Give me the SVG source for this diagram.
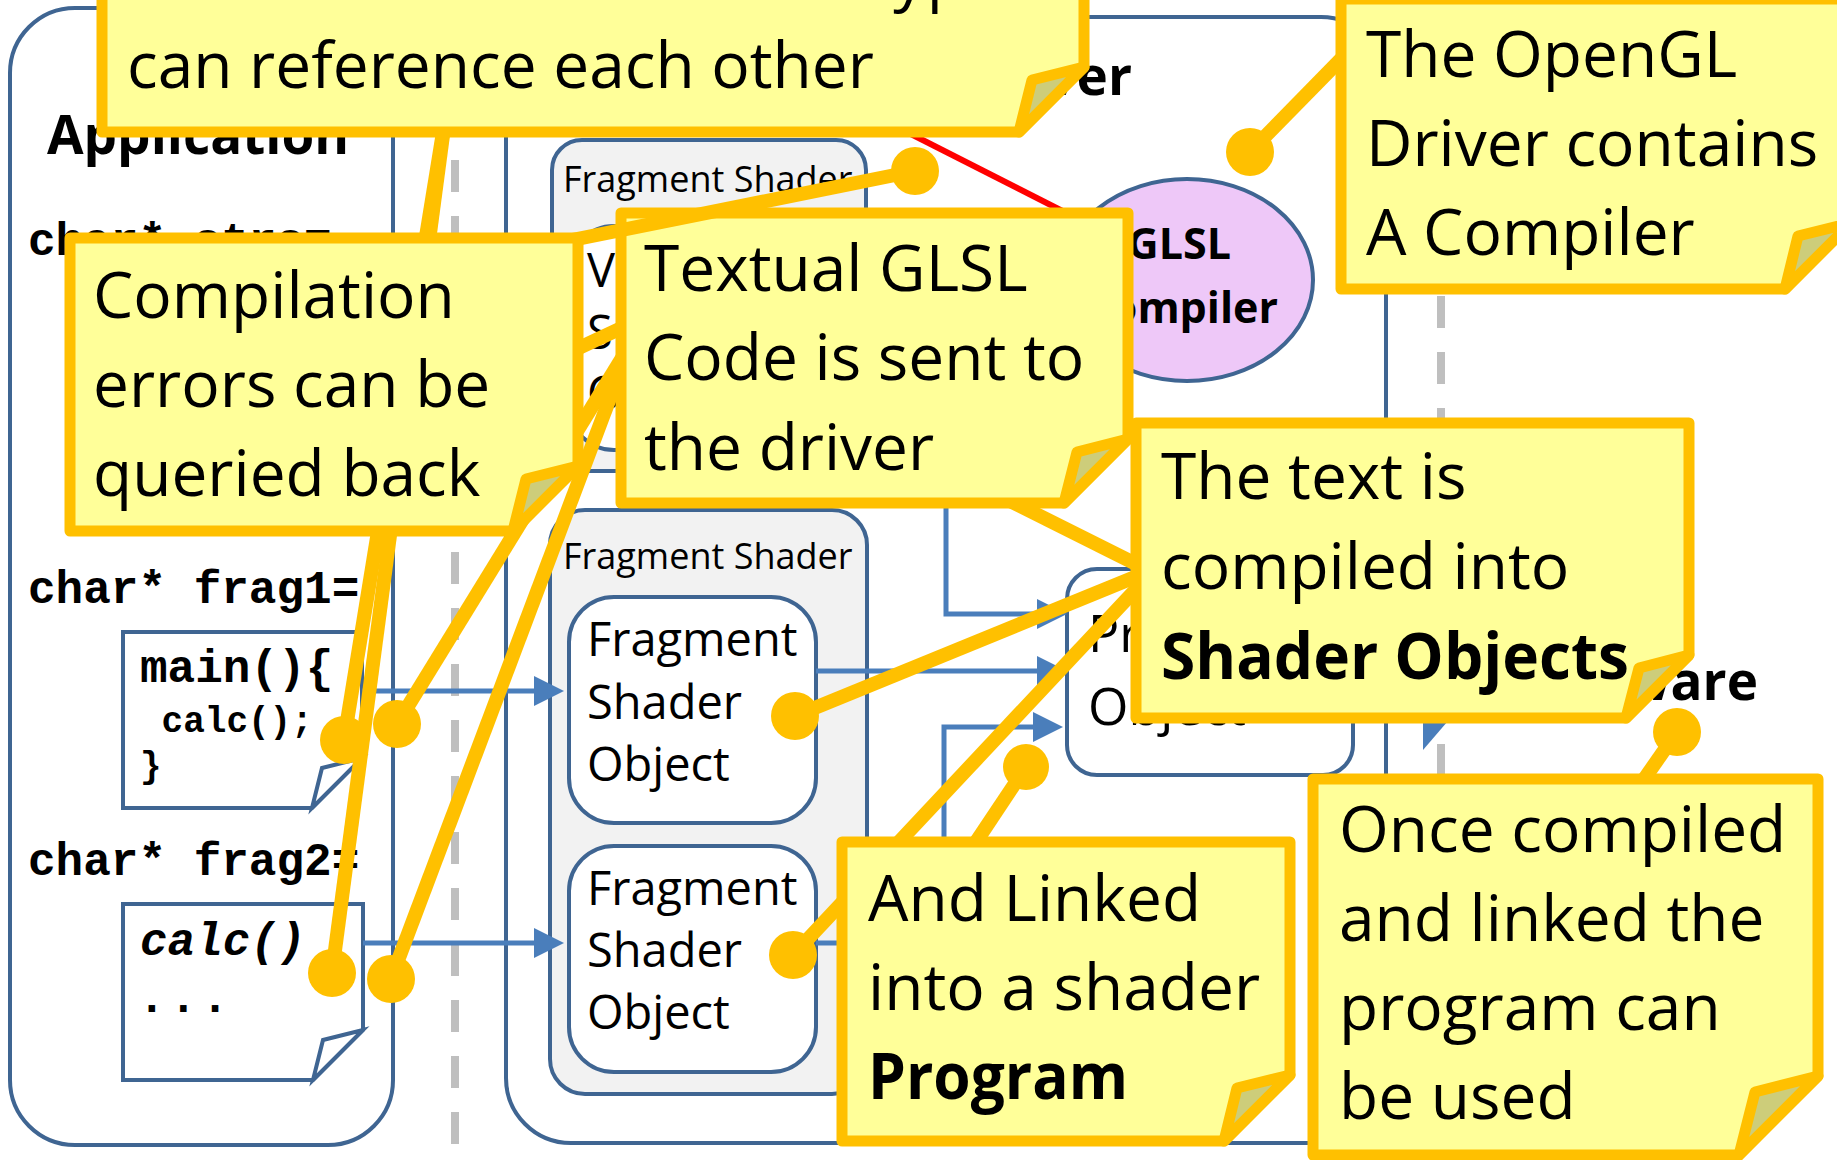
<svg xmlns="http://www.w3.org/2000/svg" width="1837" height="1160" viewBox="0 0 1837 1160">
<defs>
<style>
.box{fill:#fff;stroke:#3F6592;stroke-width:4}
.grp{fill:#F2F2F2;stroke:#3F6592;stroke-width:4}
.sep{stroke:#BFBFBF;stroke-width:8;stroke-dasharray:32 24;fill:none}
.title{font-family:"Open Sans","Liberation Sans",sans-serif;font-weight:bold;font-size:53px}
.lbl{font-family:"Open Sans","Liberation Sans",sans-serif;font-size:36px}
.obj{font-family:"Open Sans","Liberation Sans",sans-serif;font-size:47px}
.prg{font-family:"Open Sans","Liberation Sans",sans-serif;font-size:52px}
.cmp{font-family:"Open Sans","Liberation Sans",sans-serif;font-weight:bold;font-size:43px}
.code{font-family:"Liberation Mono","Courier New",monospace;font-weight:bold;font-size:46px}
.cs{font-size:36px}
.flow{fill:none;stroke:#4A7EBB;stroke-width:5}
.note{fill:#FFFF99;stroke:#FFC000;stroke-width:11;stroke-linejoin:round}
.fold{fill:#CDCD7A;stroke:#FFC000;stroke-width:11;stroke-linejoin:round}
.lead{stroke:#FFC000;stroke-width:14;fill:none}
.pin{fill:#FFC000}
.nt{font-family:"Open Sans","Liberation Sans",sans-serif;font-size:64px}
.b{font-weight:bold}
</style>
<marker id="arr" markerUnits="userSpaceOnUse" markerWidth="30" markerHeight="30" refX="20" refY="15" orient="auto">
<path d="M0,0 L30,15 L0,30 Z" fill="#4A7EBB"/>
</marker>
</defs>
<rect width="1837" height="1160" fill="#fff"/>

<!-- layer separators -->
<g id="separators">
<line class="sep" x1="455" y1="48" x2="455" y2="1144"/>
<line class="sep" x1="1441" y1="16" x2="1441" y2="1144"/>
</g>

<!-- application side -->
<g id="application">
<rect class="box" x="10" y="8" width="383" height="1137" rx="65"/>
<text class="title" x="47" y="154">Application</text>
<text class="code" x="28" y="255">char* strs=</text>
<text class="code" x="28" y="603">char* frag1=</text>
<text class="code" x="28" y="875">char* frag2=</text>
</g>
<g id="code-frag1">
<path class="box" d="M123,632 H362 V758 L312,808 H123 Z"/>
<path class="box" d="M312,808 L322,768 L362,758 Z"/>
<text class="code" x="140" y="682">main(){</text>
<text class="code cs" x="140" y="732" xml:space="preserve"> calc();</text>
<text class="code cs" x="140" y="777">}</text>
</g>
<g id="code-frag2">
<path class="box" d="M123,904 H363 V1030 L313,1080 H123 Z"/>
<path class="box" d="M313,1080 L323,1040 L363,1030 Z"/>
<text class="code" x="140" y="955" font-style="italic">calc()</text>
<text class="code" x="138" y="1012" letter-spacing="4">...</text>
</g>

<!-- driver side -->
<g id="driver">
<rect class="box" x="506" y="17" width="880" height="1126" rx="65"/>
<text class="title" x="1132" y="95" text-anchor="end">OpenGL Driver</text>
</g>
<g id="shader-group-top">
<rect class="grp" x="552" y="140" width="314" height="331" rx="30"/>
<text class="lbl" x="563" y="192">Fragment Shader</text>
<rect class="box" x="569" y="226" width="247" height="224" rx="45"/>
<text class="obj" x="587" y="287">Vertex</text>
<text class="obj" x="587" y="349">Shader</text>
<text class="obj" x="587" y="410">Object</text>
</g>
<g id="shader-group-frag">
<rect class="grp" x="550" y="510" width="317" height="584" rx="35"/>
<text class="lbl" x="563" y="569">Fragment Shader</text>
</g>
<g id="frag-object-1">
<rect class="box" x="569" y="597" width="247" height="226" rx="45"/>
<text class="obj" x="587" y="656">Fragment</text>
<text class="obj" x="587" y="719">Shader</text>
<text class="obj" x="587" y="781">Object</text>
</g>
<g id="frag-object-2">
<rect class="box" x="569" y="846" width="247" height="226" rx="45"/>
<text class="obj" x="587" y="905">Fragment</text>
<text class="obj" x="587" y="967">Shader</text>
<text class="obj" x="587" y="1029">Object</text>
</g>
<g id="program-object">
<rect class="box" x="1067" y="569" width="286" height="206" rx="30"/>
<text class="prg" x="1088" y="652">Program</text>
<text class="prg" x="1088" y="725">Object</text>
</g>
<g id="glsl-compiler">
<ellipse cx="1187" cy="280" rx="126" ry="101" fill="#EEC8F8" stroke="#3F6592" stroke-width="4"/>
<text class="cmp" x="1231" y="259" text-anchor="end">GLSL</text>
<text class="cmp" x="1278" y="323" text-anchor="end">Compiler</text>
</g>

<!-- hardware side -->
<g id="hardware">
<text class="title" x="1758" y="700" text-anchor="end">Hardware</text>
</g>

<!-- data flow -->
<g id="connectors">
<path class="flow" d="M362,691 H554" marker-end="url(#arr)"/>
<path class="flow" d="M363,943 H554" marker-end="url(#arr)"/>
<path class="flow" d="M816,671 H1057" marker-end="url(#arr)"/>
<path class="flow" d="M816,943 H944 V727 H1053" marker-end="url(#arr)"/>
<path class="flow" d="M816,335 H946 V614 H1057" marker-end="url(#arr)"/>
<polygon points="1423,700 1466,700 1423,750" fill="#4A7EBB"/>
<line x1="899" y1="128" x2="1090" y2="225" stroke="#FF0000" stroke-width="6"/>
</g>

<!-- annotations -->
<g id="note-shader-objects">
<line class="lead" x1="1140" y1="575" x2="795" y2="716"/>
<line class="lead" x1="1140" y1="585" x2="793" y2="955"/>
<line class="lead" x1="1140" y1="566" x2="760" y2="376"/>
<circle class="pin" cx="795" cy="716" r="24"/>
<circle class="pin" cx="793" cy="955" r="24"/>
<path class="note" d="M1136,423 H1689 V655 L1626,718 H1136 Z"/>
<path class="fold" d="M1626,718 L1639,668 L1689,655 Z"/>
<text class="nt" x="1161" y="499">The text is</text>
<text class="nt" x="1161" y="589">compiled into</text>
<text class="nt b" x="1161" y="679" textLength="468" lengthAdjust="spacingAndGlyphs">Shader Objects</text>
</g>

<g id="note-textual-code">
<line class="lead" x1="630" y1="345" x2="397" y2="724"/>
<line class="lead" x1="630" y1="345" x2="391" y2="979"/>
<line class="lead" x1="630" y1="324" x2="300" y2="479"/>
<circle class="pin" cx="397" cy="724" r="24"/>
<circle class="pin" cx="391" cy="979" r="24"/>
<path class="note" d="M621,213 H1128 V439 L1064,503 H621 Z"/>
<path class="fold" d="M1064,503 L1077,452 L1128,439 Z"/>
<text class="nt" x="644" y="291">Textual GLSL</text>
<text class="nt" x="644" y="380">Code is sent to</text>
<text class="nt" x="644" y="470">the driver</text>
</g>

<g id="note-reference">
<line class="lead" x1="445" y1="120" x2="344" y2="740"/>
<line class="lead" x1="445" y1="120" x2="332" y2="973"/>
<circle class="pin" cx="344" cy="740" r="24"/>
<circle class="pin" cx="332" cy="973" r="24"/>
<path class="note" d="M102,-163 H1084 V67 L1019,132 H102 Z"/>
<path class="fold" d="M1019,132 L1032,80 L1084,67 Z"/>
<text class="nt" x="127" y="-1" textLength="876">All shaders of the same type</text>
<text class="nt" x="127" y="88">can reference each other</text>
</g>

<g id="note-errors">
<line class="lead" x1="572" y1="240" x2="915" y2="171"/>
<circle class="pin" cx="915" cy="171" r="24"/>
<path class="note" d="M70,238 H578 V466 L513,531 H70 Z"/>
<path class="fold" d="M513,531 L526,479 L578,466 Z"/>
<text class="nt" x="93" y="318">Compilation</text>
<text class="nt" x="93" y="407">errors can be</text>
<text class="nt" x="93" y="496">queried back</text>
</g>

<g id="note-compiler">
<line class="lead" x1="1345" y1="55" x2="1250" y2="152"/>
<circle class="pin" cx="1250" cy="152" r="24"/>
<path class="note" d="M1341,-1 H1851 V223 L1785,289 H1341 Z"/>
<path class="fold" d="M1785,289 L1798,236 L1851,223 Z"/>
<text class="nt" x="1366" y="77">The OpenGL</text>
<text class="nt" x="1366" y="166">Driver contains</text>
<text class="nt" x="1366" y="255">A Compiler</text>
</g>

<g id="note-linked">
<line class="lead" x1="972" y1="848" x2="1026" y2="767"/>
<circle class="pin" cx="1026" cy="767" r="23"/>
<path class="note" d="M842,842 H1290 V1075 L1224,1141 H842 Z"/>
<path class="fold" d="M1224,1141 L1237,1088 L1290,1075 Z"/>
<text class="nt" x="868" y="921">And Linked</text>
<text class="nt" x="868" y="1010">into a shader</text>
<text class="nt b" x="868" y="1099" textLength="260" lengthAdjust="spacingAndGlyphs">Program</text>
</g>

<g id="note-usable">
<line class="lead" x1="1640" y1="785" x2="1677" y2="732"/>
<circle class="pin" cx="1677" cy="732" r="24"/>
<path class="note" d="M1313,779 H1818 V1076 L1739,1155 H1313 Z"/>
<path class="fold" d="M1739,1155 L1755,1092 L1818,1076 Z"/>
<text class="nt" x="1339" y="852">Once compiled</text>
<text class="nt" x="1339" y="941">and linked the</text>
<text class="nt" x="1339" y="1030">program can</text>
<text class="nt" x="1339" y="1119">be used</text>
</g>
</svg>
